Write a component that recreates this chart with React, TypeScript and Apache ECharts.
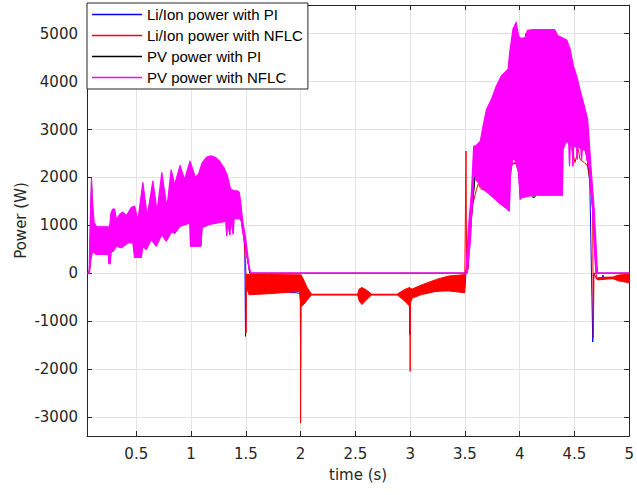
import React, { useEffect, useRef } from 'react';
import * as echarts from 'echarts';

// ---------- axes ----------
const xTicks = [0.5, 1, 1.5, 2, 2.5, 3, 3.5, 4, 4.5, 5];
const yTicks = [-3000, -2000, -1000, 0, 1000, 2000, 3000, 4000, 5000];
const legendNames = ['Li/Ion power with PI', 'Li/Ion power with NFLC', 'PV power with PI', 'PV power with NFLC'];

// ---------- Li/Ion power with PI (blue) ----------
const liPiT = [0.05, 0.07, 0.09, 0.12, 0.5, 0.85, 0.99, 1.0, 1.3, 1.45, 1.49, 1.497, 1.5, 1.998, 2.0, 2.003, 2.997, 2.998, 3.0, 3.5, 3.51, 3.53, 3.6, 4.0, 4.4, 4.6, 4.62, 4.64, 4.667, 4.675, 4.7, 4.75, 4.76, 4.77, 5.0];
const liPiW = [0, 0, 600, 700, 800, 950, 1150, 1000, 1200, 1200, 700, -1320, -300, -420, -2000, -450, -450, -1290, -450, -300, 0, 600, 2200, 2300, 2800, 2700, 2300, 1900, -1440, 0, -110, -110, -40, -110, -130];

// ---------- Li/Ion power with NFLC (red) ----------
const liNflcT = [0.05, 0.07, 0.08, 0.09, 0.12, 0.5, 0.85, 0.99, 1.0, 1.2, 1.318, 1.455, 1.47, 1.49, 1.5, 1.502, 1.505, 1.998, 2.0, 2.003, 2.998, 3.0, 3.003, 3.498, 3.51, 3.515, 3.53, 3.546, 3.56, 3.575, 3.606, 3.621, 3.65, 3.68, 3.8, 3.9, 4.0, 4.1, 4.2, 4.3, 4.39, 4.43, 4.475, 4.49, 4.505, 4.535, 4.55, 4.59, 4.62, 4.636, 4.65, 4.666, 4.672, 4.678, 4.696, 4.71, 4.77, 4.83, 4.86, 5.0];
const liNflcW = [0, 0, 300, 650, 700, 800, 1000, 1150, 1000, 1100, 1150, 1130, 1000, 500, 0, -1250, -300, -300, -3130, -450, -450, -2050, -420, -300, 2550, 200, 77, 774, 1192, 1473, 1751, 1856, 1751, 1751, 2000, 2200, 2400, 2550, 2650, 2720, 2760, 2762, 2588, 2450, 2310, 2588, 2379, 2310, 2238, 2029, 1751, 1402, -1350, 0, 0, -132, -90, -90, -100, -110];
// ripple envelope while charging (1.5 s – 3.5 s)
const liNflcRippleAT = [1.505, 1.53, 1.7, 1.99, 2.003, 2.03, 2.06, 2.1, 2.52, 2.535, 2.56, 2.6, 2.65, 2.88, 2.95, 2.995, 3.005, 3.02, 3.1, 3.24, 3.35, 3.5];
const liNflcRippleAHi = [-20, -27, -27, -35, -30, -150, -300, -440, -440, -330, -300, -350, -440, -440, -340, -300, -320, -330, -250, -130, -60, -30];
const liNflcRippleALo = [-300, -450, -430, -380, -700, -650, -560, -450, -450, -580, -655, -560, -450, -450, -580, -690, -600, -520, -450, -376, -370, -410];
// ripple envelope after 4.7 s
const liNflcRippleBT = [4.7, 4.72, 4.85, 4.9, 4.95, 5.0];
const liNflcRippleBHi = [-110, -90, -80, -40, -30, -20];
const liNflcRippleBLo = [-120, -140, -110, -160, -180, -200];

// ---------- PV power with PI (black) ----------
const pvPiT = [0.05, 0.07, 0.085, 0.091, 0.1, 0.15, 0.5, 0.99, 0.997, 1.0, 1.09, 1.1, 1.2, 1.44, 1.47, 1.5, 1.535, 3.51, 3.55, 3.6, 3.8, 4.0, 4.055, 4.12, 4.14, 4.2, 4.4, 4.6, 4.65, 4.7, 4.71, 5.0];
const pvPiW = [0, 0, 900, 1975, 1100, 650, 750, 1300, 700, 600, 600, 1000, 1500, 1400, 1000, 500, 0, 0, 900, 2200, 2800, 3200, 5000, 1580, 1590, 2500, 2900, 2600, 1900, 200, 0, 0];

// ---------- PV power with NFLC (magenta) : oscillation envelope ----------
const pvNflcUpperT = [0.05, 0.07, 0.075, 0.085, 0.091, 0.1, 0.115, 0.136, 0.257, 0.268, 0.285, 0.303, 0.318, 0.348, 0.378, 0.409, 0.454, 0.485, 0.515, 0.56, 0.6, 0.651, 0.69, 0.733, 0.78, 0.818, 0.85, 0.9, 0.94, 0.99, 1.04, 1.07, 1.1, 1.14, 1.18, 1.22, 1.26, 1.3, 1.33, 1.36, 1.39, 1.42, 1.44, 1.455, 1.47, 1.5, 1.53, 1.545, 3.51, 3.53, 3.56, 3.58, 3.6, 3.64, 3.666, 3.697, 3.742, 3.787, 3.833, 3.894, 3.909, 3.939, 3.969, 3.99, 4.01, 4.05, 4.07, 4.121, 4.318, 4.348, 4.43, 4.46, 4.49, 4.52, 4.55, 4.59, 4.62, 4.636, 4.65, 4.666, 4.68, 4.696, 4.71, 5.0];
const pvNflcUpperW = [0, 0, 700, 1500, 1960, 1500, 1060, 970, 970, 1250, 1340, 1340, 1120, 1230, 1276, 1200, 1368, 1400, 1120, 1891, 1192, 1925, 1297, 2100, 1368, 2160, 1850, 2250, 1950, 2340, 2000, 2080, 2300, 2420, 2450, 2420, 2340, 2200, 2050, 1760, 1720, 1720, 1690, 1450, 1120, 700, 150, 0, 0, 900, 1700, 2650, 2660, 2750, 3075, 3420, 3630, 3910, 4120, 4260, 4610, 5100, 5240, 4950, 4900, 4920, 5070, 5085, 5085, 4960, 4870, 4680, 4330, 4120, 3840, 3490, 3215, 2730, 2240, 1750, 1330, 640, 0, 0];
const pvNflcLowerT = [0.05, 0.072, 0.085, 0.1, 0.115, 0.136, 0.245, 0.25, 0.262, 0.27, 0.29, 0.318, 0.364, 0.424, 0.469, 0.485, 0.545, 0.56, 0.59, 0.636, 0.682, 0.733, 0.773, 0.824, 0.85, 0.9, 0.99, 0.995, 1.09, 1.1, 1.166, 1.318, 1.325, 1.332, 1.355, 1.362, 1.385, 1.392, 1.455, 1.47, 1.5, 1.53, 1.545, 3.52, 3.55, 3.585, 3.6, 3.666, 3.71, 3.76, 3.81, 3.87, 3.905, 3.915, 3.935, 3.955, 3.99, 4.005, 4.02, 4.08, 4.15, 4.39, 4.395, 4.43, 4.45, 4.455, 4.46, 4.48, 4.485, 4.49, 4.52, 4.525, 4.53, 4.56, 4.565, 4.57, 4.6, 4.636, 4.65, 4.666, 4.68, 4.696, 5.0];
const pvNflcLowerW = [0, 0, 300, 450, 430, 390, 390, 200, 200, 460, 460, 565, 531, 635, 635, 330, 330, 565, 495, 705, 565, 810, 670, 879, 830, 980, 1050, 565, 565, 950, 1019, 1088, 780, 1095, 800, 1110, 820, 1150, 1150, 900, 500, 100, 0, 0, 700, 2240, 1960, 1750, 1680, 1577, 1473, 1368, 1297, 2030, 2380, 2380, 2100, 1542, 1577, 1611, 1630, 1630, 2590, 2780, 2700, 2240, 2700, 2640, 2240, 2640, 2640, 2380, 2640, 2600, 2380, 2600, 2550, 2170, 1750, 1330, 640, 0, 0];

const colorBlue = '#0000ff';
const colorRed = '#ff0000';
const colorBlack = '#000000';
const colorMagenta = '#ff00ff';
const legendColors = [colorBlue, colorRed, colorBlack, colorMagenta];
const FONT = '"Liberation Sans", Arial, Helvetica, sans-serif';
const AXIS_FONT = '"DejaVu Sans", Verdana, sans-serif';

const zip = (t: number[], v: number[]) => t.map((x, i) => [x, v[i]]);

function lineSeries(name: string, t: number[], v: number[], color: string, z: number, width = 1) {
  return {
    type: 'line',
    name,
    z,
    data: zip(t, v),
    symbol: 'none',
    color,
    itemStyle: { color },
    lineStyle: { color, width, join: 'round' },
    silent: true,
  };
}

function bandSeries(name: string, ut: number[], uv: number[], lt: number[], lv: number[], color: string, z: number, width = 1) {
  return {
    type: 'custom',
    name,
    z,
    coordinateSystem: 'cartesian2d',
    data: [[1, 0]],
    clip: true,
    silent: true,
    color,
    itemStyle: { color },
    renderItem: (_params: any, api: any) => {
      const pts: number[][] = [];
      for (let i = 0; i < ut.length; i++) pts.push(api.coord([ut[i], uv[i]]));
      for (let i = lt.length - 1; i >= 0; i--) pts.push(api.coord([lt[i], lv[i]]));
      return {
        type: 'polygon',
        shape: { points: pts },
        style: { fill: color, stroke: color, lineWidth: width, lineJoin: 'round' },
      };
    },
  };
}

const axisColor = '#262626';
const gridColor = '#e3e3e3';

export default function App() {
  const ref = useRef<HTMLDivElement>(null);
  useEffect(() => {
    if (!ref.current) return;
    const chart = echarts.init(ref.current, undefined, { renderer: 'svg' });
    const labelStyle = { color: axisColor, fontSize: 15, fontFamily: AXIS_FONT };
    const option: any = {
      animation: false,
      backgroundColor: '#ffffff',
      grid: { left: 87, right: 5, top: 5, bottom: 59, containLabel: false },
      legend: {
        data: legendNames.map((n, i) => ({ name: n, itemStyle: { color: legendColors[i] } })),
        orient: 'vertical',
        left: 87,
        top: 3,
        icon: 'rect',
        itemWidth: 50,
        itemHeight: 1.3,
        itemGap: 0,
        padding: [1, 5, 1, 5],
        backgroundColor: '#ffffff',
        borderColor: axisColor,
        borderWidth: 1,
        borderRadius: 0,
        textStyle: { color: '#000000', fontSize: 15, fontFamily: FONT, lineHeight: 21 },
        z: 10,
      },
      xAxis: [
        {
          type: 'value', min: 0.05, max: 5, position: 'bottom',
          name: 'time (s)', nameLocation: 'middle', nameGap: 31, nameMoveOverlap: false,
          nameTextStyle: { color: axisColor, fontSize: 15, fontFamily: AXIS_FONT },
          axisLine: { show: true, onZero: false, lineStyle: { color: axisColor, width: 1 } },
          axisTick: { show: true, inside: true, length: 5, customValues: xTicks, lineStyle: { color: axisColor } },
          axisLabel: { ...labelStyle, margin: 10, customValues: xTicks, formatter: (v: number) => String(v) },
          splitLine: { show: true, lineStyle: { color: gridColor, width: 1 } },
        },
        {
          type: 'value', min: 0.05, max: 5, position: 'top',
          axisLine: { show: true, onZero: false, lineStyle: { color: axisColor, width: 1 } },
          axisTick: { show: true, inside: true, length: 5, customValues: xTicks, lineStyle: { color: axisColor } },
          axisLabel: { show: false },
          splitLine: { show: false },
        },
      ],
      yAxis: [
        {
          type: 'value', min: -3400, max: 5600, position: 'left',
          name: 'Power (W)', nameLocation: 'middle', nameGap: 59, nameMoveOverlap: false,
          nameTextStyle: { color: axisColor, fontSize: 15, fontFamily: AXIS_FONT },
          axisLine: { show: true, onZero: false, lineStyle: { color: axisColor, width: 1 } },
          axisTick: { show: true, inside: true, length: 5, customValues: yTicks, lineStyle: { color: axisColor } },
          axisLabel: { ...labelStyle, margin: 9, customValues: yTicks, formatter: (v: number) => String(v) },
          splitLine: { show: true, lineStyle: { color: gridColor, width: 1 } },
        },
        {
          type: 'value', min: -3400, max: 5600, position: 'right',
          axisLine: { show: true, onZero: false, lineStyle: { color: axisColor, width: 1 } },
          axisTick: { show: true, inside: true, length: 5, customValues: yTicks, lineStyle: { color: axisColor } },
          axisLabel: { show: false },
          splitLine: { show: false },
        },
      ],
      series: [
        lineSeries(legendNames[0], liPiT, liPiW, colorBlue, 2),
        lineSeries(legendNames[1], liNflcT, liNflcW, colorRed, 3),
        bandSeries(legendNames[1], liNflcRippleAT, liNflcRippleAHi, liNflcRippleAT, liNflcRippleALo, colorRed, 3),
        bandSeries(legendNames[1], liNflcRippleBT, liNflcRippleBHi, liNflcRippleBT, liNflcRippleBLo, colorRed, 3),
        lineSeries(legendNames[2], pvPiT, pvPiW, colorBlack, 4),
        lineSeries(legendNames[3], pvNflcLowerT, pvNflcLowerW, colorMagenta, 5),
        bandSeries(legendNames[3], pvNflcUpperT, pvNflcUpperW, pvNflcLowerT, pvNflcLowerW, colorMagenta, 5, 1.2),
      ],
    };
    chart.setOption(option);
    return () => chart.dispose();
  }, []);
  return <div ref={ref} style={{ position: 'fixed', left: 0, top: 0, width: 637, height: 495, background: '#fff' }} />;
}
